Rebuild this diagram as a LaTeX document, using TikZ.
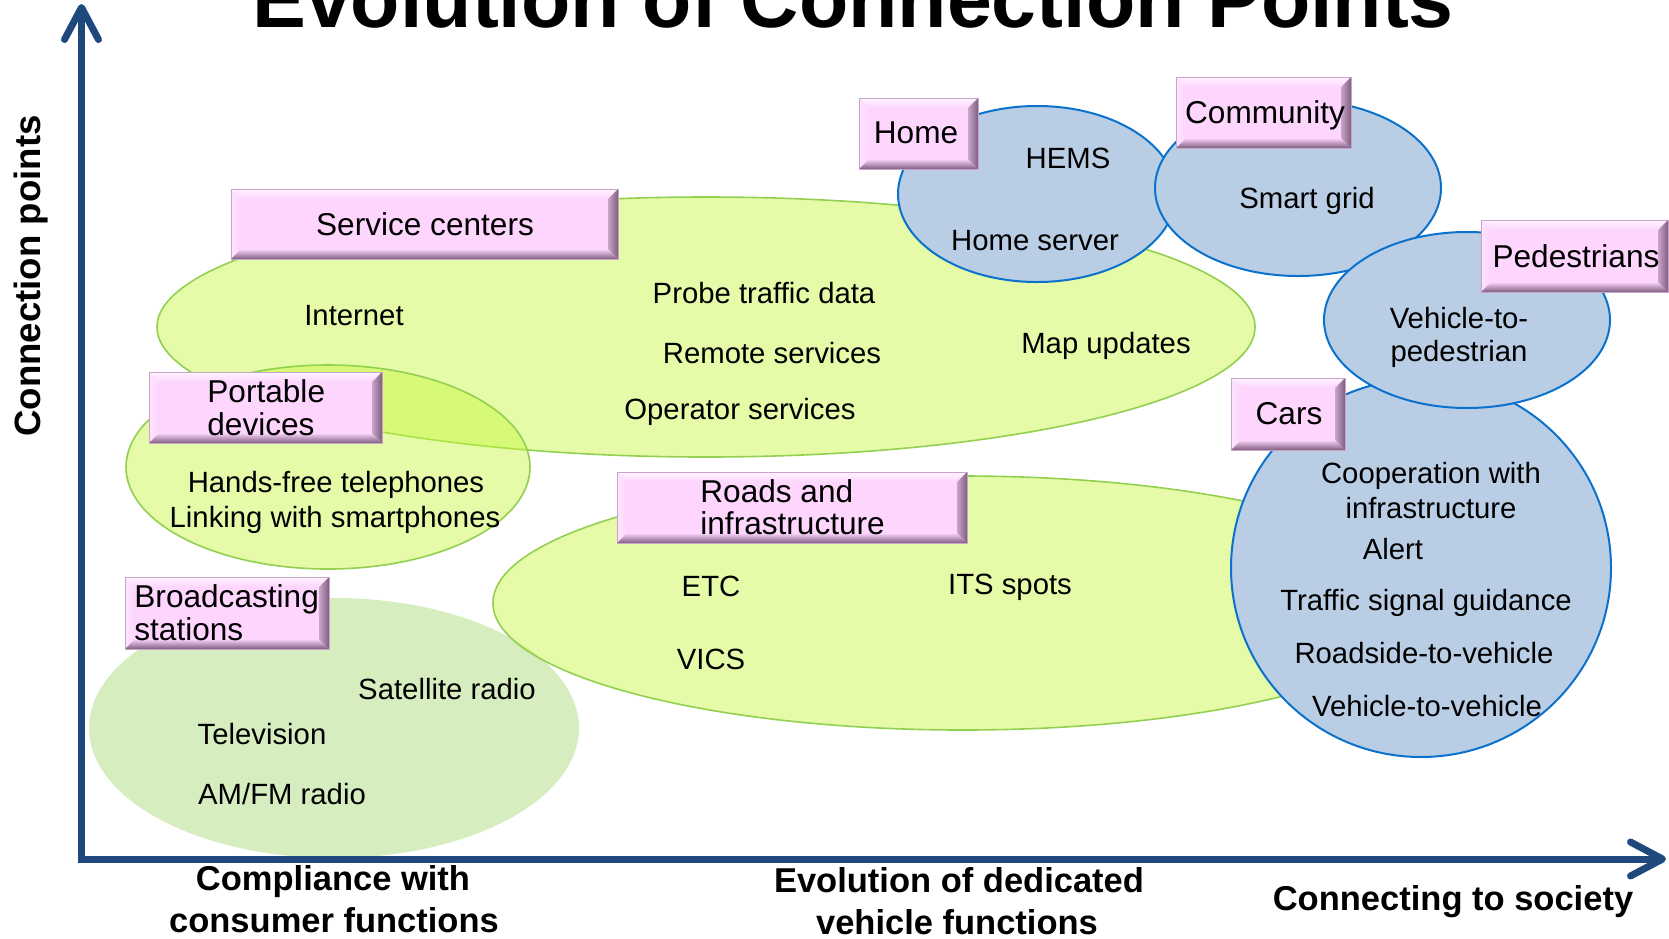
\documentclass[tikz,border=0pt]{standalone}
\usepackage{fontspec}
\setmainfont{Liberation Sans}
\usetikzlibrary{arrows.meta}

\definecolor{axisblue}{HTML}{1F497D}
\definecolor{lime}{RGB}{198,246,61}
\definecolor{limeedge}{HTML}{92D050}
\definecolor{sage}{HTML}{D5EDBF}
\definecolor{bubble}{HTML}{B9CDE5}
\definecolor{bubbleedge}{HTML}{0A72CC}
\definecolor{pinkface}{HTML}{FDD5FD}
\definecolor{pinklight}{HTML}{FFF4FF}
\definecolor{pinkdark}{HTML}{7E5E7E}
\definecolor{pinkedge}{HTML}{C9A3C9}

% bevelled label plate: corners (x1,y1) and (x2,y2)
\newcommand\bevbox[4]{%
  \fill[pinkface] (#1,#2) rectangle (#3,#4);
  \shade[top color=pinklight,bottom color=pinkface]
    (#1,#2) -- (#3,#2) -- (#3-10,#2+10) -- (#1+10,#2+10) -- cycle;
  \shade[left color=pinklight!50!pinkface,right color=pinkface]
    (#1,#2) -- (#1+10,#2+10) -- (#1+10,#4-10) -- (#1,#4) -- cycle;
  \shade[top color=pinkface,bottom color=pinkdark]
    (#1,#4) -- (#3,#4) -- (#3-10,#4-10) -- (#1+10,#4-10) -- cycle;
  \shade[left color=pinkface!60!pinkdark,right color=pinkdark]
    (#3,#2) -- (#3,#4) -- (#3-10,#4-10) -- (#3-10,#2+10) -- cycle;
  \draw[pinkedge,line width=0.5pt] (#1,#2) rectangle (#3,#4);
}

\tikzset{
  body/.style={font=\fontsize{14.65}{17}\selectfont,inner sep=0pt,anchor=base},
  tag/.style={font=\fontsize{15.8}{18}\selectfont,inner sep=0pt,anchor=base},
  axislabel/.style={font=\bfseries\fontsize{17.25}{20}\selectfont,inner sep=0pt,anchor=base},
  limezone/.style={fill=lime,fill opacity=0.45,draw=limeedge,line width=0.8pt},
  bluezone/.style={fill=bubble,draw=bubbleedge,line width=1pt},
  axisline/.style={draw=axisblue,line width=3.5pt,line join=miter,
    {Straight Barb[length=16pt,width=17pt,round]}-{Straight Barb[length=16pt,width=17pt,round]}},
}

\begin{document}
\begin{tikzpicture}[x=0.5pt,y=-0.5pt]
\useasboundingbox (0,0) rectangle (1669,938);
\clip (0,0) rectangle (1669,938);

% title, running off the top edge
\node[font=\bfseries\fontsize{40.35}{48}\selectfont,inner sep=0pt,anchor=base] (title) at (853,27) {Evolution of Connection Points};

% zones
\path[limezone] (706,327) ellipse [x radius=549,y radius=130];
\path[limezone] (328,467) ellipse [x radius=202,y radius=102];
\fill[sage] (334,728) ellipse [x radius=245,y radius=130];
\path[limezone] (963,603) ellipse [x radius=470,y radius=127];
\path[bluezone] (1037,194) ellipse [x radius=139,y radius=88];
\path[bluezone] (1298,188) ellipse [x radius=143,y radius=88];
\path[bluezone] (1421,568) ellipse [x radius=190,y radius=189];
\path[bluezone] (1467,320) ellipse [x radius=143,y radius=88];

% axes
\coordinate (ytip) at (81.5,4);
\coordinate (origin) at (81.5,859);
\coordinate (xtip) at (1666,859);
\draw[axisline] (ytip) -- (origin) -- (xtip);

% label plates
\bevbox{231}{189}{618}{259}
\bevbox{859}{98}{978}{169}
\bevbox{1176}{77}{1351}{148}
\bevbox{1481}{220}{1668}{292}
\bevbox{149}{372}{382}{443}
\bevbox{125}{577}{329}{649}
\bevbox{617}{472}{967}{543}
\bevbox{1231}{378}{1345}{450}

\node[tag] (service) at (425,235) {Service centers};
\node[tag] (home) at (916,143) {Home};
\node[tag] (community) at (1265,123) {Community};
\node[tag] (pedestrians) at (1576,267) {Pedestrians};
\node[tag,anchor=base west] (portable1) at (207,402) {Portable};
\node[tag,anchor=base west] (portable2) at (207,435) {devices};
\node[tag,anchor=base west] (broadcast1) at (134,607) {Broadcasting};
\node[tag,anchor=base west] (broadcast2) at (134,640) {stations};
\node[tag,anchor=base west] (roads1) at (700,502) {Roads and};
\node[tag,anchor=base west] (roads2) at (700,534) {infrastructure};
\node[tag] (cars) at (1289,424) {Cars};

% items
\node[body] (hems) at (1068,168) {HEMS};
\node[body] (homeserver) at (1035,250) {Home server};
\node[body] (smartgrid) at (1307,208) {Smart grid};
\node[body] (internet) at (354,325) {Internet};
\node[body] (probe) at (764,303) {Probe traffic data};
\node[body] (remote) at (772,363) {Remote services};
\node[body] (mapupd) at (1106,353) {Map updates};
\node[body] (operator) at (740,419) {Operator services};
\node[body] (v2p1) at (1459,328) {Vehicle-to-};
\node[body] (v2p2) at (1459,361) {pedestrian};
\node[body] (handsfree) at (336,492) {Hands-free telephones};
\node[body] (smartph) at (335,527) {Linking with smartphones};
\node[body] (etc) at (711,596) {ETC};
\node[body] (its) at (1010,594) {ITS spots};
\node[body] (vics) at (711,669) {VICS};
\node[body] (satradio) at (447,699) {Satellite radio};
\node[body] (tv) at (262,744) {Television};
\node[body] (amfm) at (282,804) {AM/FM radio};
\node[body] (coop1) at (1431,483) {Cooperation with};
\node[body] (coop2) at (1431,518) {infrastructure};
\node[body] (alert) at (1393,559) {Alert};
\node[body] (signal) at (1426,610) {Traffic signal guidance};
\node[body] (r2v) at (1424,663) {Roadside-to-vehicle};
\node[body] (v2v) at (1427,716) {Vehicle-to-vehicle};

% axis captions
\node[axislabel] (cons1) at (333,890) {Compliance with};
\node[axislabel] (cons2) at (334,932) {consumer functions};
\node[axislabel] (ded1) at (959,892) {Evolution of dedicated};
\node[axislabel] (ded2) at (957,934) {vehicle functions};
\node[axislabel] (society) at (1453,910) {Connecting to society};
\node[font=\bfseries\fontsize{18.3}{21}\selectfont,inner sep=0pt,anchor=base,rotate=90] (ylabel) at (40,276) {Connection points};
\end{tikzpicture}
\end{document}
